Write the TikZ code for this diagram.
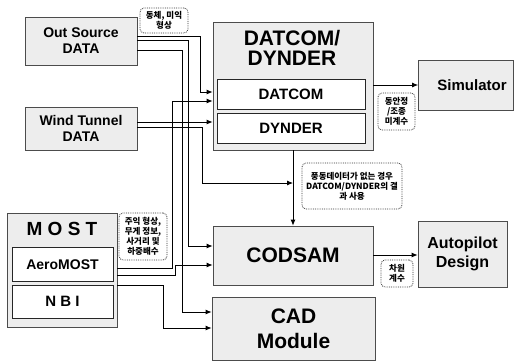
\documentclass[tikz,border=0pt]{standalone}
\usepackage{fontspec}
\setmainfont{Liberation Sans}
\newfontfamily\kor{Noto Sans CJK KR}
\usetikzlibrary{arrows.meta}

\begin{document}
\begin{tikzpicture}[x=1pt,y=-1pt,line width=0.8pt,
  >={Latex[length=6pt,width=5pt]},
  box/.style={draw=black!70, fill=black!7, line width=0.8pt, align=center, inner sep=0pt},
  inbox/.style={draw=black!85, fill=white, line width=0.9pt, align=center, inner sep=0pt},
  note/.style={draw=black!80, densely dotted, rounded corners=4pt, fill=white, align=center, inner sep=0pt, font=\kor\bfseries\fontsize{8.5}{10}\selectfont}]
\useasboundingbox (0,0) rectangle (518,362);
% sources
\node[box, minimum width=112pt, minimum height=48pt, font={\fontsize{14}{16}\selectfont\bfseries}] (outsrc) at (81,41) {Out Source\\DATA};
\node[box, minimum width=112pt, minimum height=43pt, font={\fontsize{14}{16}\selectfont\bfseries}] (wind) at (81,128.5) {Wind Tunnel\\DATA};
% DATCOM/DYNDER
\node[box, minimum width=160pt, minimum height=128pt] (dd) at (293,86) {};
\node[font={\fontsize{21}{20}\selectfont\bfseries}, align=center] (ddtitle) at (292,48) {DATCOM/\\DYNDER};
\node[inbox, minimum width=148pt, minimum height=30pt, font={\fontsize{15}{16}\selectfont\bfseries}] (datcom) at (291,94) {DATCOM};
\node[inbox, minimum width=148pt, minimum height=30pt, font={\fontsize{15}{16}\selectfont\bfseries}] (dynder) at (291,128) {DYNDER};
\node[box, minimum width=95pt, minimum height=50pt, font={\fontsize{15}{16}\selectfont\bfseries}] (sim) at (466,85) {\hspace{12pt}Simulator};
% MOST
\node[box, minimum width=110pt, minimum height=114pt] (most) at (62,270) {};
\node[font={\fontsize{19}{20}\selectfont\bfseries}] (mosttitle) at (62,229) {M O S T};
\node[inbox, minimum width=101pt, minimum height=34pt, font={\fontsize{14}{16}\selectfont\bfseries}] (aero) at (62.5,264.5) {AeroMOST};
\node[inbox, minimum width=101pt, minimum height=33pt, font={\fontsize{15}{16}\selectfont\bfseries}] (nbi) at (62.5,301.5) {N B I};
% targets
\node[box, minimum width=160pt, minimum height=59pt, font={\fontsize{21}{22}\selectfont\bfseries}] (codsam) at (293,255.5) {CODSAM};
\node[box, minimum width=89pt, minimum height=66pt, font={\fontsize{16}{19}\selectfont\bfseries}] (auto) at (462.5,254) {Autopilot\\Design};
\node[box, minimum width=163pt, minimum height=63pt, font={\fontsize{21}{25}\selectfont\bfseries}] (cad) at (293.5,328.5) {CAD\\Module};
% notes
\node[note, minimum width=48pt, minimum height=25pt] (n1) at (164,20.5) {동체, 미익\\형상};
\node[note, minimum width=37pt, minimum height=37pt] (n2) at (396.5,111.5) {동안정\\/조종\\미계수};
\node[note, minimum width=100pt, minimum height=46pt] (n3) at (352,186) {풍동데이터가 없는 경우\\DATCOM/DYNDER의 결\\과 사용};
\node[note, minimum width=48pt, minimum height=47pt] (n4) at (143,236.5) {주익 형상,\\무게 정보,\\사거리 및\\하중배수};
\node[note, minimum width=32pt, minimum height=27pt] (n5) at (397,273.5) {차원\\계수};
% links
\draw[->] (outsrc.east |- 0,36) -| (200,92) -- (dd.west |- 0,92);
\draw[->] (outsrc.east |- 0,40) -| (188,246) -- (codsam.west |- 0,246);
\draw[->] (outsrc.east |- 0,50) -| (182,312) -- (cad.west |- 0,312);
\draw[->] (wind.east |- 0,122) -- (dd.west |- 0,122);
\draw[->] (wind.east |- 0,127) -| (202,183) -- (dd.south |- 0,183);
\draw[->] (dd.south) -- (codsam.north);
\draw[->] (most.east |- 0,268) -| (172,101) -- (dd.west |- 0,101);
\draw[->] (most.east |- 0,275) -| (175,265) -- (codsam.west |- 0,265);
\draw[->] (most.east |- 0,285) -| (163,328) -- (cad.west |- 0,328);
\draw[->] (dd.east |- 0,85) -- (sim.west |- 0,85);
\draw[->] (codsam.east |- 0,255) -- (auto.west |- 0,255);
\end{tikzpicture}
\end{document}
